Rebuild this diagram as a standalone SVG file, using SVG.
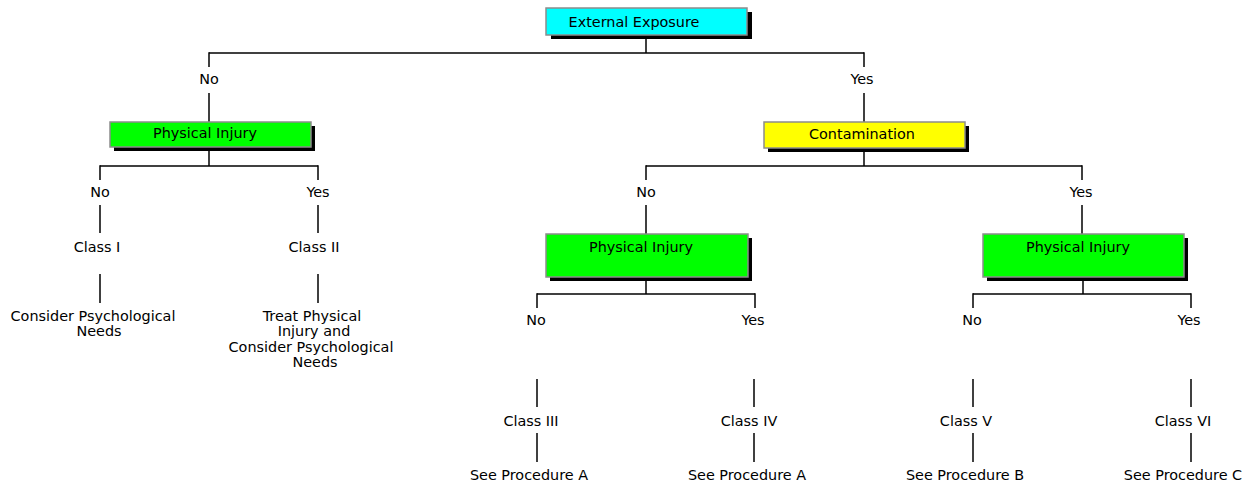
<svg xmlns="http://www.w3.org/2000/svg" width="1252" height="484" viewBox="0 0 1252 484">
<style>
  text { font-family: "DejaVu Sans", "Liberation Sans", sans-serif; font-size: 14.4px; fill: #000; text-anchor: middle; }
  .box { stroke: #8c8c8c; stroke-width: 1.5; }
  .shadow { fill: #000; }
  .cyan { fill: #00ffff; }
  .green { fill: #00ff00; }
  .yellow { fill: #ffff00; }
  .conn line { stroke: #000; stroke-width: 1.5; fill: none; }
</style>
<rect width="1252" height="484" fill="#ffffff"/>
<g class="conn" id="connectors">
  <line x1="646" y1="36" x2="646" y2="53"/>
  <line x1="209" y1="53" x2="864" y2="53"/>
  <line x1="209" y1="52.25" x2="209" y2="67"/>
  <line x1="864" y1="52.25" x2="864" y2="67"/>
  <line x1="209" y1="93" x2="209" y2="122"/>
  <line x1="864" y1="93" x2="864" y2="122"/>
  <line x1="209" y1="148" x2="209" y2="166"/>
  <line x1="100" y1="166" x2="318" y2="166"/>
  <line x1="100" y1="165.25" x2="100" y2="180"/>
  <line x1="318" y1="165.25" x2="318" y2="180"/>
  <line x1="100" y1="205" x2="100" y2="233"/>
  <line x1="318" y1="205" x2="318" y2="233"/>
  <line x1="100" y1="274" x2="100" y2="303"/>
  <line x1="318" y1="274" x2="318" y2="303"/>
  <line x1="864" y1="148" x2="864" y2="166"/>
  <line x1="646" y1="166" x2="1082" y2="166"/>
  <line x1="646" y1="165.25" x2="646" y2="180"/>
  <line x1="1082" y1="165.25" x2="1082" y2="180"/>
  <line x1="646" y1="205" x2="646" y2="234"/>
  <line x1="1082" y1="205" x2="1082" y2="234"/>
  <line x1="646" y1="277" x2="646" y2="294"/>
  <line x1="537" y1="294" x2="755" y2="294"/>
  <line x1="537" y1="293.25" x2="537" y2="308"/>
  <line x1="755" y1="293.25" x2="755" y2="308"/>
  <line x1="1083" y1="277" x2="1083" y2="294"/>
  <line x1="973" y1="294" x2="1191" y2="294"/>
  <line x1="973" y1="293.25" x2="973" y2="308"/>
  <line x1="1191" y1="293.25" x2="1191" y2="308"/>
  <line x1="537" y1="379" x2="537" y2="407"/>
  <line x1="537" y1="433" x2="537" y2="462"/>
  <line x1="754" y1="379" x2="754" y2="407"/>
  <line x1="754" y1="433" x2="754" y2="462"/>
  <line x1="973" y1="379" x2="973" y2="407"/>
  <line x1="973" y1="433" x2="973" y2="462"/>
  <line x1="1191" y1="379" x2="1191" y2="407"/>
  <line x1="1191" y1="433" x2="1191" y2="462"/>
</g>
<g id="external-exposure">
  <rect class="shadow" x="551" y="12" width="201" height="27"/>
  <rect class="box cyan" x="546" y="8" width="201" height="27"/>
  <text x="634" y="27">External Exposure</text>
</g>
<g id="label-no-1"><text x="209" y="84">No</text></g>
<g id="label-yes-1"><text x="862" y="84">Yes</text></g>
<g id="physical-injury-1">
  <rect class="shadow" x="114" y="126" width="201" height="25"/>
  <rect class="box green" x="110" y="122" width="201" height="25"/>
  <text x="205" y="138">Physical Injury</text>
</g>
<g id="contamination">
  <rect class="shadow" x="768" y="126" width="201" height="26"/>
  <rect class="box yellow" x="764" y="122" width="201" height="26"/>
  <text x="862" y="139">Contamination</text>
</g>
<g id="label-no-2a"><text x="100" y="197">No</text></g>
<g id="label-yes-2a"><text x="318" y="197">Yes</text></g>
<g id="label-no-2b"><text x="646" y="197">No</text></g>
<g id="label-yes-2b"><text x="1081" y="197">Yes</text></g>
<g id="class-1"><text x="97" y="252">Class I</text></g>
<g id="class-2"><text x="314" y="252">Class II</text></g>
<g id="outcome-1">
  <text x="93" y="321">Consider Psychological</text>
  <text x="99" y="336">Needs</text>
</g>
<g id="outcome-2">
  <text x="312" y="321">Treat Physical</text>
  <text x="314" y="336">Injury and</text>
  <text x="311" y="352">Consider Psychological</text>
  <text x="315" y="367">Needs</text>
</g>
<g id="physical-injury-2">
  <rect class="shadow" x="550" y="238" width="202" height="43"/>
  <rect class="box green" x="546" y="234" width="202" height="43"/>
  <text x="641" y="252">Physical Injury</text>
</g>
<g id="physical-injury-3">
  <rect class="shadow" x="987" y="238" width="201" height="43"/>
  <rect class="box green" x="983" y="234" width="201" height="43"/>
  <text x="1078" y="252">Physical Injury</text>
</g>
<g id="label-no-3a"><text x="536" y="325">No</text></g>
<g id="label-yes-3a"><text x="753" y="325">Yes</text></g>
<g id="label-no-3b"><text x="972" y="325">No</text></g>
<g id="label-yes-3b"><text x="1189" y="325">Yes</text></g>
<g id="class-3"><text x="531" y="426">Class III</text></g>
<g id="class-4"><text x="749" y="426">Class IV</text></g>
<g id="class-5"><text x="966" y="426">Class V</text></g>
<g id="class-6"><text x="1183" y="426">Class VI</text></g>
<g id="procedure-a1"><text x="529" y="480">See Procedure A</text></g>
<g id="procedure-a2"><text x="747" y="480">See Procedure A</text></g>
<g id="procedure-b"><text x="965" y="480">See Procedure B</text></g>
<g id="procedure-c"><text x="1183" y="480">See Procedure C</text></g>
</svg>
